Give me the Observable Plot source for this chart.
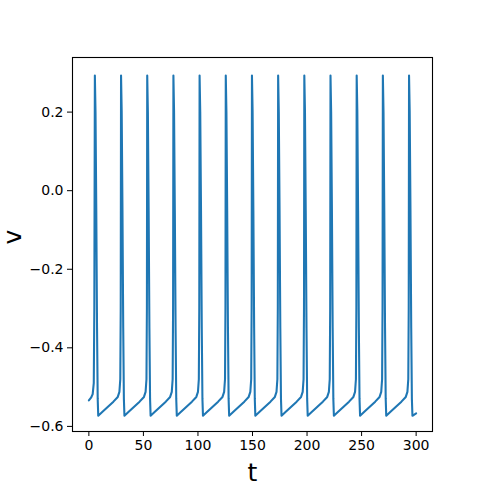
<!DOCTYPE html>
<html>
<head>
<meta charset="utf-8">
<script src="https://cdn.jsdelivr.net/npm/d3@7"></script>
<script src="https://cdn.jsdelivr.net/npm/@observablehq/plot@0.6"></script>
<style>
  html, body { margin: 0; padding: 0; background: #fff; }
</style>
</head>
<body>
<div id="chart"></div>
<script>
const tValues = [
  0, 2, 3.5, 4.5, 5.0,
  5.5, 6.1, 6.8, 7.5, 8.1, 8.6, 12.5, 17.5, 22.5, 26.5, 28, 28.8, 29.2,
  29.5, 30.1, 30.8, 31.5, 32.1, 32.6, 36.5, 41.5, 46.5, 50.5, 52, 52.8, 53.2,
  53.5, 54.1, 54.8, 55.5, 56.1, 56.6, 60.5, 65.5, 70.5, 74.5, 76, 76.8, 77.2,
  77.5, 78.1, 78.8, 79.5, 80.1, 80.6, 84.5, 89.5, 94.5, 98.5, 100, 100.8, 101.2,
  101.5, 102.1, 102.8, 103.5, 104.1, 104.6, 108.5, 113.5, 118.5, 122.5, 124, 124.8, 125.2,
  125.5, 126.1, 126.8, 127.5, 128.1, 128.6, 132.5, 137.5, 142.5, 146.5, 148, 148.8, 149.2,
  149.5, 150.1, 150.8, 151.5, 152.1, 152.6, 156.5, 161.5, 166.5, 170.5, 172, 172.8, 173.2,
  173.5, 174.1, 174.8, 175.5, 176.1, 176.6, 180.5, 185.5, 190.5, 194.5, 196, 196.8, 197.2,
  197.5, 198.1, 198.8, 199.5, 200.1, 200.6, 204.5, 209.5, 214.5, 218.5, 220, 220.8, 221.2,
  221.5, 222.1, 222.8, 223.5, 224.1, 224.6, 228.5, 233.5, 238.5, 242.5, 244, 244.8, 245.2,
  245.5, 246.1, 246.8, 247.5, 248.1, 248.6, 252.5, 257.5, 262.5, 266.5, 268, 268.8, 269.2,
  269.5, 270.1, 270.8, 271.5, 272.1, 272.6, 276.5, 281.5, 286.5, 290.5, 292, 292.8, 293.2,
  293.5, 294.1, 294.8, 295.5, 296.1, 296.6, 300
];
const vValues = [
  -0.534, -0.527, -0.518, -0.49, -0.30,
  0.293, 0.20, -0.05, -0.35, -0.53, -0.573, -0.563, -0.550, -0.537, -0.525, -0.512, -0.48, -0.30,
  0.293, 0.20, -0.05, -0.35, -0.53, -0.573, -0.563, -0.550, -0.537, -0.525, -0.512, -0.48, -0.30,
  0.293, 0.20, -0.05, -0.35, -0.53, -0.573, -0.563, -0.550, -0.537, -0.525, -0.512, -0.48, -0.30,
  0.293, 0.20, -0.05, -0.35, -0.53, -0.573, -0.563, -0.550, -0.537, -0.525, -0.512, -0.48, -0.30,
  0.293, 0.20, -0.05, -0.35, -0.53, -0.573, -0.563, -0.550, -0.537, -0.525, -0.512, -0.48, -0.30,
  0.293, 0.20, -0.05, -0.35, -0.53, -0.573, -0.563, -0.550, -0.537, -0.525, -0.512, -0.48, -0.30,
  0.293, 0.20, -0.05, -0.35, -0.53, -0.573, -0.563, -0.550, -0.537, -0.525, -0.512, -0.48, -0.30,
  0.293, 0.20, -0.05, -0.35, -0.53, -0.573, -0.563, -0.550, -0.537, -0.525, -0.512, -0.48, -0.30,
  0.293, 0.20, -0.05, -0.35, -0.53, -0.573, -0.563, -0.550, -0.537, -0.525, -0.512, -0.48, -0.30,
  0.293, 0.20, -0.05, -0.35, -0.53, -0.573, -0.563, -0.550, -0.537, -0.525, -0.512, -0.48, -0.30,
  0.293, 0.20, -0.05, -0.35, -0.53, -0.573, -0.563, -0.550, -0.537, -0.525, -0.512, -0.48, -0.30,
  0.293, 0.20, -0.05, -0.35, -0.53, -0.573, -0.563, -0.550, -0.537, -0.525, -0.512, -0.48, -0.30,
  0.293, 0.20, -0.05, -0.35, -0.53, -0.573, -0.567
];
const xTicks = [0, 50, 100, 150, 200, 250, 300];
const yTicks = [-0.6, -0.4, -0.2, 0.0, 0.2];
const xLabel = "t";
const yLabel = "v";

const data = tValues.map((t, i) => ({t, v: vValues[i]}));

const chart = Plot.plot({
  width: 480,
  height: 484,
  marginLeft: 72,
  marginRight: 48,
  marginTop: 57,
  marginBottom: 53,
  style: {fontFamily: "DejaVu Sans", fontSize: "14px", background: "#fff", color: "#000"},
  x: {domain: [-15, 315]},
  y: {domain: [-0.613, 0.339]},
  marks: [
    Plot.line(data, {x: "t", y: "v", stroke: "#1f77b4", strokeWidth: 2.08, strokeLinejoin: "round"}),
    Plot.frame({stroke: "#000", strokeWidth: 1.1}),
    Plot.axisX({ticks: xTicks, tickSize: 5, tickPadding: 4, tickFormat: d3.format("d"), label: null, fontSize: 14}),
    Plot.axisY({ticks: yTicks, tickSize: 5, tickPadding: 4, tickFormat: d3.format(".1f"), label: null, fontSize: 14}),
    Plot.text([xLabel], {text: d => d, frameAnchor: "bottom", dy: 41, fontSize: 25, lineAnchor: "middle"}),
    Plot.text([yLabel], {text: d => d, frameAnchor: "left", dx: -60, rotate: -90, fontSize: 25, lineAnchor: "middle"})
  ]
});
document.getElementById("chart").appendChild(chart);
</script>
</body>
</html>
